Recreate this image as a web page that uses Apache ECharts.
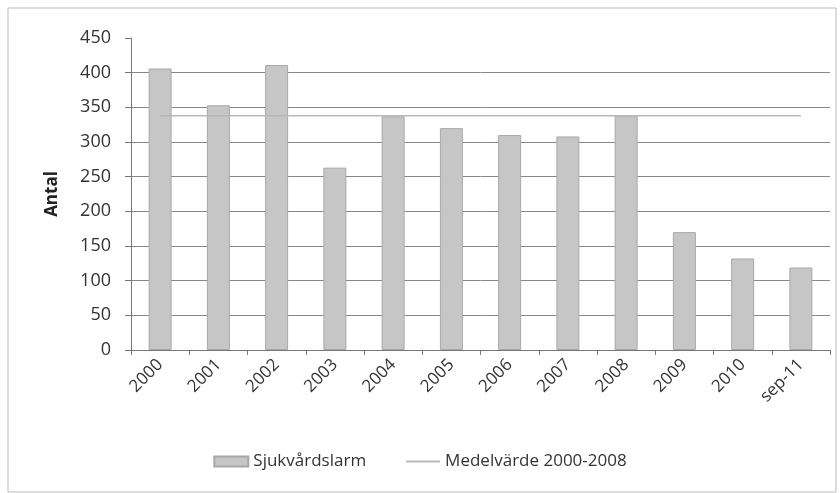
<!DOCTYPE html>
<html><head><meta charset="utf-8">
<script src="https://cdn.jsdelivr.net/npm/echarts@6/dist/echarts.min.js"></script>
<style>html,body{margin:0;padding:0;background:#fff}#c{width:840px;height:493px}</style>
</head><body><div id="c"></div>
<script>
var categories = ['2000','2001','2002','2003','2004','2005','2006','2007','2008','2009','2010','sep-11'];
var alarmValues = [406, 353, 411, 263, 337, 320, 310, 308, 338, 170, 132, 119];
var meanValues = [338, 338, 338, 338, 338, 338, 338, 338, 338, 338, 338, 338];
var yTicks = [0, 50, 100, 150, 200, 250, 300, 350, 400, 450];
var FONT = '"Open Sans", "Liberation Sans", sans-serif';
var chart = echarts.init(document.getElementById('c'));
chart.setOption({
  animation: false,
  backgroundColor: '#fff',
  graphic: [{type:'rect', shape:{x:8,y:8,width:828,height:484}, style:{fill:'none', stroke:'#bbb', lineWidth:1}}],
  grid: {left: 131, right: 10, top: 38, bottom: 143},
  legend: {
    bottom: 18, left: 'center', itemGap: 40, itemWidth: 34, itemHeight: 10,
    textStyle: {fontFamily: FONT, fontSize: 17, color: '#333'},
    data: [{name:'Sjukvårdslarm', icon:'rect'}, {name:'Medelvärde 2000-2008', icon:'path://M0,4L34,4L34,6L0,6Z'}]
  },
  xAxis: {
    type: 'category', data: categories,
    axisLine: {lineStyle: {color: '#777'}},
    axisTick: {show: true, length: 5, lineStyle: {color: '#777'}},
    axisLabel: {rotate: 45, fontFamily: FONT, fontSize: 17, color: '#333', margin: 12}
  },
  yAxis: {
    type: 'value', min: yTicks[0], max: yTicks[yTicks.length-1], interval: 50,
    name: 'Antal', nameLocation: 'middle', nameGap: 70, nameRotate: 90,
    nameTextStyle: {fontFamily: FONT, fontSize: 17, fontWeight: 'bold', color: '#222'},
    axisLine: {show: true, lineStyle: {color: '#777'}},
    axisTick: {show: true, length: 6, lineStyle: {color: '#777'}},
    axisLabel: {fontFamily: FONT, fontSize: 18, color: '#333', margin: 20},
    splitLine: {showMaxLine: false, lineStyle: {color: '#888', width: 1}}
  },
  series: [
    {name: 'Sjukvårdslarm', type: 'bar', data: alarmValues, barWidth: 23,
     itemStyle: {color: '#c6c6c6', borderColor: '#a8a8a8', borderWidth: 1}},
    {name: 'Medelvärde 2000-2008', type: 'line', data: meanValues, symbol: 'none',
     lineStyle: {color: '#b8b8b8', width: 1.5}, itemStyle: {color: '#b8b8b8'}, z: 3}
  ]
});
</script></body></html>
